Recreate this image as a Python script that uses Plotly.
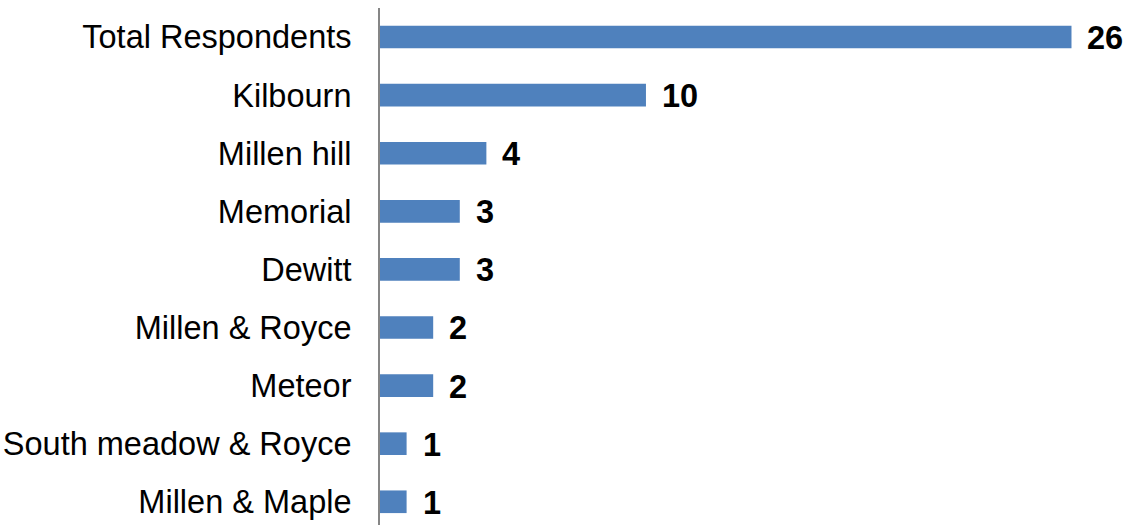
import plotly.graph_objects as go

categories = ["Total Respondents", "Kilbourn", "Millen hill", "Memorial", "Dewitt",
              "Millen & Royce", "Meteor", "South meadow & Royce", "Millen & Maple"]
counts = [26, 10, 4, 3, 3, 2, 2, 1, 1]

bar_color = "#4F81BD"
font_family = "Liberation Sans, Arial, sans-serif"

fig = go.Figure(go.Bar(
    x=counts,
    y=categories,
    orientation="h",
    marker=dict(color=bar_color, line=dict(width=0)),
    width=0.39,
    hoverinfo="x+y",
))

# bold value labels just past the end of each bar
for cat, val in zip(categories, counts):
    fig.add_annotation(
        x=val, y=cat, text=f"<b>{val}</b>", showarrow=False,
        xanchor="left", yanchor="middle", xshift=14, yshift=-1,
        font=dict(family=font_family, size=32.5, color="#000000"),
    )

fig.update_layout(
    width=1130, height=525,
    margin=dict(l=380, r=0, t=8, b=0),
    paper_bgcolor="white", plot_bgcolor="white",
    showlegend=False,
    font=dict(family=font_family, size=32.5, color="#000000"),
    bargap=0.6,
)
fig.update_xaxes(
    range=[0, 28.2], visible=False, showgrid=False, zeroline=False,
)
fig.update_yaxes(
    categoryorder="array", categoryarray=categories,
    range=[8.4, -0.5],
    showline=True, linecolor="#868686", linewidth=2,
    ticks="", showgrid=False, zeroline=False,
    ticklabelstandoff=20,
    tickfont=dict(family=font_family, size=32.5, color="#000000"),
)

fig.write_html("out.html")
